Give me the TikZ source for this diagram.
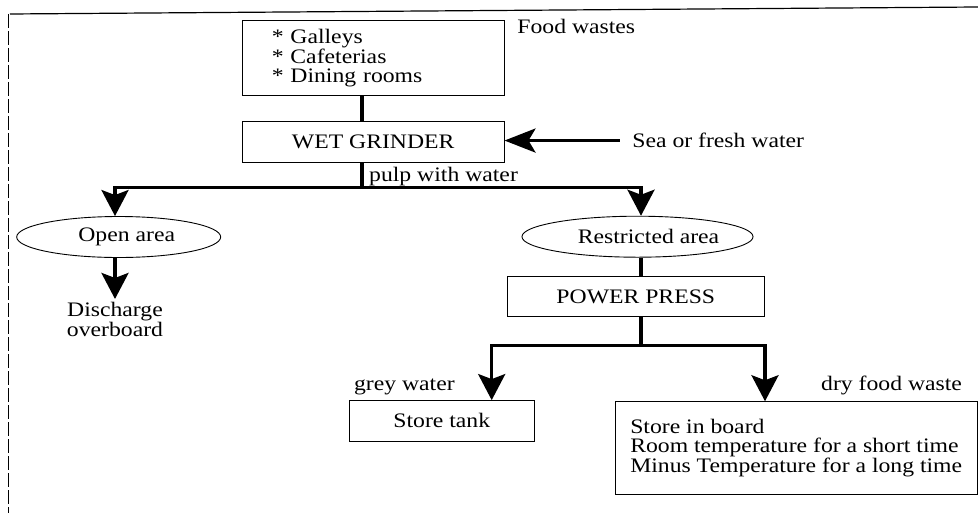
\documentclass[tikz,border=0pt]{standalone}
\usepackage{fontspec}
\setmainfont{Liberation Serif}[FakeStretch=1.15]
\usepackage{tikz}
\usetikzlibrary{arrows.meta,shapes.geometric}
\tikzstyle{process} = [rectangle, draw, line width=0.9pt, text centered, minimum height=40.5pt, inner sep=0pt]
\tikzstyle{area} = [ellipse, draw, line width=0.9pt, minimum height=41pt, inner sep=0pt]
\tikzstyle{note} = [inner sep=0pt]
\tikzstyle{trunk} = [line width=3.4pt]
\tikzstyle{connector} = [line width=3.4pt, -{Stealth[length=26pt, width=27pt, inset=5pt]}]
\tikzstyle{inflow} = [line width=3.4pt, -{Stealth[length=31pt, width=24pt, inset=7pt]}]

\begin{document}
\begin{tikzpicture}[x=1pt, y=-1pt, every node/.style={font=\fontsize{20.6pt}{19.5pt}\selectfont}]
        \useasboundingbox (0,0) rectangle (978,513);
        \draw [line width=1.2pt] (10,14) -- (978,7);
        \draw [line width=1pt, dash pattern=on 14pt off 3pt] (8.3,14) -- (8.3,513);
        \node (sources) [process, align=left, text width=202.9pt, minimum width=261.7pt, minimum height=75pt] at (373.2,58.2) {{*} Galleys\\{*} Cafeterias\\{*} Dining rooms};
        \node (grinder) [process, below of = sources, yshift = -55.35pt, minimum width=261.7pt] {WET GRINDER};
        \node (open-area) [area, below of = grinder, xshift = -254.5pt, yshift = -66.55pt, minimum width=204pt] {\hspace*{16pt}Open area};
        \node (restricted-area) [area, below of = grinder, xshift = 264.3pt, yshift = -66.25pt, minimum width=195pt] {\hspace*{22pt}Restricted area};
        \node (discharge) [align=center, below of = open-area, xshift = -3.7pt, yshift = -54.05pt] {Discharge\\overboard};
        \node (press) [process, below of = restricted-area, xshift = -1.7pt, yshift = -31.55pt, minimum width=256.3pt, minimum height=40pt] {POWER PRESS};
        \node (tank) [process, below of = press, xshift = -194pt, yshift = -95.65pt, minimum width=185pt] {Store tank};
        \node (dry-store) [process, align=left, below of = press, xshift = 160.4pt, yshift = -122.85pt, minimum width=362.3pt, minimum height=92.6pt] {Store in board\\Room temperature for a short time\\Minus Temperature for a long time};
        \node (food) [note, anchor=base west] at ([xshift=12.7pt, yshift=-13.6pt]sources.north east) {Food wastes};
        \node (sea) [note, anchor=base west] at ([xshift=127.7pt, yshift=-5.7pt]grinder.east) {Sea or fresh water};
        \node (pulp) [note, anchor=base west] at ([xshift=-4.2pt, yshift=-18.7pt]grinder.south) {pulp with water};
        \node (grey) [note, anchor=base west] at ([xshift=5pt, yshift=10pt]tank.north west) {grey water};
        \node (dry) [note, anchor=base east] at ([xshift=-15.6pt, yshift=11pt]dry-store.north east) {dry food waste};
        \coordinate (split-1) at ([xshift=-11.2pt, yshift=-25pt]grinder.south);
        \coordinate (press-in) at ([xshift=3.5pt]restricted-area.south);
        \draw [trunk] (sources.south -| split-1) -- (grinder.north -| split-1);
        \draw [inflow, shorten <=12.4pt] (sea.west) -- (sea.west -| grinder.east);
        \draw [trunk] (grinder.south -| split-1) -- (split-1);
        \draw [connector] (split-1) -| ([xshift=-3.7pt]open-area.north);
        \draw [connector] (split-1) -| ([xshift=3.5pt]restricted-area.north);
        \draw [connector] ([xshift=-3.7pt]open-area.south) -- (discharge.north);
        \draw [trunk] (press-in) -- (press-in |- press.north);
        \coordinate (split-2) at ([yshift=-28.3pt]press-in |- press.south);
        \draw [trunk] (press.south -| split-2) -- (split-2);
        \draw [connector] (split-2) -| ([xshift=49.9pt]tank.north);
        \draw [connector] (split-2) -| ([xshift=-31.2pt]dry-store.north);
    \end{tikzpicture}
\end{document}
